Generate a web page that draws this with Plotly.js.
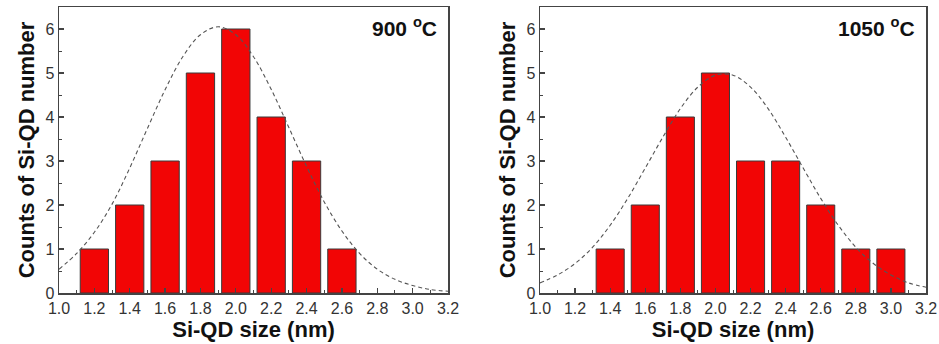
<!DOCTYPE html>
<html>
<head>
<meta charset="utf-8">
<script src="https://cdn.plot.ly/plotly-3.0.1.min.js"></script>
<style>html,body{margin:0;padding:0;background:#fff;}#chart{width:939px;height:344px;}</style>
</head>
<body>
<div id="chart"></div>
<script>
// Data
const sizes900 = [1.2, 1.4, 1.6, 1.8, 2.0, 2.2, 2.4, 2.6];
const counts900 = [1, 2, 3, 5, 6, 4, 3, 1];
const sizes1050 = [1.4, 1.6, 1.8, 2.0, 2.2, 2.4, 2.6, 2.8, 3.0];
const counts1050 = [1, 2, 4, 5, 3, 3, 2, 1, 1];
const fitX = [1.0, 1.1, 1.2, 1.3, 1.4, 1.5, 1.6, 1.7, 1.8, 1.9, 2.0, 2.1, 2.2, 2.3, 2.4, 2.5, 2.6, 2.7, 2.8, 2.9, 3.0, 3.1, 3.2];
const fit900 = [0.54, 0.90, 1.38, 2.02, 2.84, 3.74, 4.62, 5.37, 5.87, 6.05, 5.87, 5.37, 4.63, 3.76, 2.88, 2.07, 1.41, 0.90, 0.54, 0.31, 0.17, 0.08, 0.04];
const fit1050 = [0.23, 0.41, 0.67, 1.04, 1.54, 2.15, 2.84, 3.54, 4.19, 4.68, 4.95, 4.95, 4.68, 4.19, 3.54, 2.84, 2.15, 1.54, 1.04, 0.67, 0.41, 0.23, 0.13];
const labels = ['900 <sup>o</sup>C', '1050 <sup>o</sup>C'];
const xTickVals = [1.0, 1.2, 1.4, 1.6, 1.8, 2.0, 2.2, 2.4, 2.6, 2.8, 3.0, 3.2];
const xMinorVals = [1.1, 1.3, 1.5, 1.7, 1.9, 2.1, 2.3, 2.5, 2.7, 2.9, 3.1];
const yTickVals = [0, 1, 2, 3, 4, 5, 6];
const yMinorVals = [0.5, 1.5, 2.5, 3.5, 4.5, 5.5];

const FONT = 'Liberation Sans, Arial, sans-serif';
const TICKSIZE = 16;
const barStyle = {color: '#f20505', line: {color: '#3a3a3a', width: 1}};
const fitStyle = {color: '#555', width: 1.1, dash: '4px,3px', shape: 'spline'};

const traces = [
  {type: 'bar', x: sizes900, y: counts900, width: 0.16, marker: barStyle, xaxis: 'x', yaxis: 'y', showlegend: false},
  {type: 'scatter', mode: 'lines', x: fitX, y: fit900, line: fitStyle, xaxis: 'x', yaxis: 'y', showlegend: false},
  {type: 'bar', x: sizes1050, y: counts1050, width: 0.16, marker: barStyle, xaxis: 'x2', yaxis: 'y2', showlegend: false},
  {type: 'scatter', mode: 'lines', x: fitX, y: fit1050, line: fitStyle, xaxis: 'x2', yaxis: 'y2', showlegend: false}
];

function xAxis(domain, anchor) {
  return {
    domain: domain, anchor: anchor, range: [1.0, 3.2],
    tickmode: 'array', tickvals: xTickVals, ticktext: xTickVals.map(v => v.toFixed(1)),
    ticks: 'inside', ticklen: 5, tickwidth: 1.2, tickcolor: '#444',
    minor: {tickmode: 'array', tickvals: xMinorVals, ticks: 'inside', ticklen: 3, tickwidth: 1, tickcolor: '#444'},
    showline: true, mirror: true, linecolor: '#444', linewidth: 1.5,
    showgrid: false, zeroline: false,
    tickfont: {family: FONT, size: TICKSIZE, color: '#333'},
    title: {text: '<b>Si-QD size (nm)</b>', font: {family: FONT, size: 22, color: '#111'}, standoff: 1}
  };
}
function yAxis(domain, anchor) {
  return {
    domain: domain, anchor: anchor, range: [0, 6.5],
    tickmode: 'array', tickvals: yTickVals,
    ticks: 'inside', ticklen: 5, tickwidth: 1.2, tickcolor: '#444',
    minor: {tickmode: 'array', tickvals: yMinorVals, ticks: 'inside', ticklen: 3, tickwidth: 1, tickcolor: '#444'},
    showline: true, mirror: true, linecolor: '#444', linewidth: 1.5,
    showgrid: false, zeroline: false,
    tickfont: {family: FONT, size: TICKSIZE, color: '#333'},
    title: {text: '<b>Counts of Si-QD number</b>', font: {family: FONT, size: 22, color: '#111'}, standoff: 4}
  };
}

const yDom = [1 - 293/344, 1 - 7/344];
const layout = {
  width: 939, height: 344,
  margin: {l: 0, r: 0, t: 0, b: 0},
  font: {family: FONT, size: TICKSIZE, color: '#222'},
  paper_bgcolor: '#fff', plot_bgcolor: '#fff',
  bargap: 0,
  xaxis: xAxis([59/939, 448/939], 'y'),
  yaxis: yAxis(yDom, 'x'),
  xaxis2: xAxis([540/939, 926/939], 'y2'),
  yaxis2: yAxis(yDom, 'x2'),
  annotations: [
    {xref: 'x', yref: 'y', x: 3.15, y: 6.05, xanchor: 'right', yanchor: 'middle', showarrow: false,
     text: '<b>' + labels[0] + '</b>', font: {family: FONT, size: 21, color: '#111'}},
    {xref: 'x2', yref: 'y2', x: 3.15, y: 6.05, xanchor: 'right', yanchor: 'middle', showarrow: false,
     text: '<b>' + labels[1] + '</b>', font: {family: FONT, size: 21, color: '#111'}}
  ]
};

Plotly.newPlot('chart', traces, layout, {displayModeBar: false, staticPlot: true});
</script>
</body>
</html>
